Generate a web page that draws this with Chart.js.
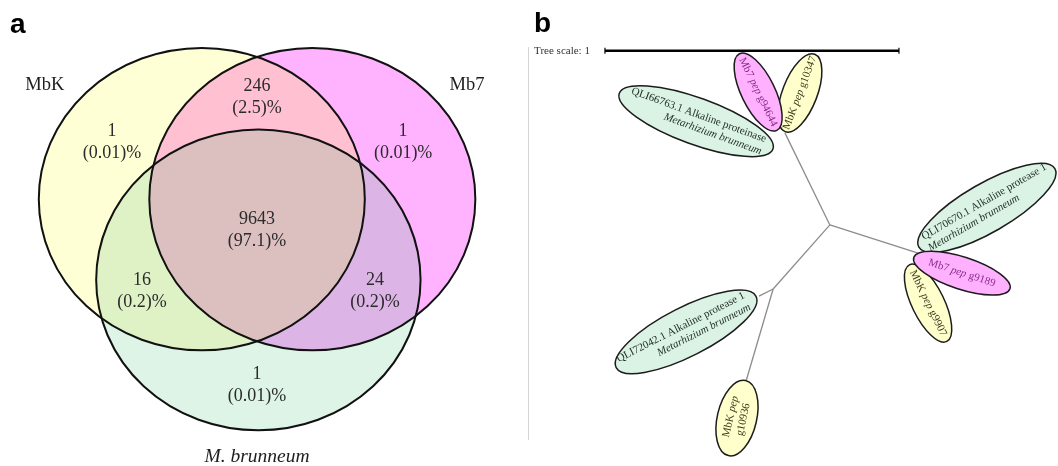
<!DOCTYPE html>
<html><head><meta charset="utf-8">
<script src="https://cdn.jsdelivr.net/npm/chart.js@4.4.0/dist/chart.umd.min.js"></script>
<style>
html,body{margin:0;padding:0;background:#fff;}
#wrap{position:relative;width:1058px;height:466px;overflow:hidden;background:#fff;}
#ca{position:absolute;left:0;top:0;}
#cb{position:absolute;left:520px;top:0;}
</style></head><body>
<div id="wrap"><canvas id="ca" width="520" height="466"></canvas><canvas id="cb" width="538" height="466"></canvas></div>
<script>
// ---------------- DATA: panel a (Venn) ----------------
const setNames = ['MbK', 'Mb7', '*M. brunneum*'];
const regionNames = ['MbK only', 'Mb7 only', 'M. brunneum only', 'MbK & Mb7', 'MbK & M. brunneum', 'Mb7 & M. brunneum', 'all three'];
const regionCounts = [1, 1, 1, 246, 16, 24, 9643];
const regionPercents = ['0.01', '0.01', '0.01', '2.5', '0.2', '0.2', '97.1'];

// ---------------- DATA: panel b (tree) ----------------
const tipLabels = [
  ['QLI66763.1 Alkaline proteinase', '*Metarhizium brunneum*'],
  ['Mb7 *pep* g94644'],
  ['MbK *pep* g10347'],
  ['QLI70670.1 Alkaline protease 1', '*Metarhizium brunneum*'],
  ['Mb7 *pep* g9189'],
  ['MbK *pep* g9907'],
  ['QLI72042.1 Alkaline protease 1', '*Metarhizium brunneum*'],
  ['MbK *pep*', 'g10936']
];
const tipGroups = ['ref', 'Mb7', 'MbK', 'ref', 'Mb7', 'MbK', 'ref', 'MbK'];
const treeScaleLength = 1;
const treeScaleLabel = 'Tree scale: 1';

// ---------------- LAYOUT (kept apart from data) ----------------
const vennX = { min: -1.577, max: 1.613 };
const vennY = { min: -1.498, max: 1.584 };
const setCX = [-0.339, 0.339, 0.008];
const setCY = [0.267, 0.267, -0.267];
const setR = [1.0, 1.0, 0.995];
const regionLX = [-0.890, 0.896, 0.0, 0.0, -0.706, 0.724, 0.0];
const regionLY = [0.645, 0.645, -0.967, 0.943, -0.345, -0.345, 0.060];
const setLX = [-1.302, 1.288, 0.0];
const setLY = [1.021, 1.021, -1.440];

const treeX = { min: 0, max: 538 / 294 };
const treeY = { min: 0, max: 466 / 294 };
const nodeX = [1.054, 0.901, 1.354, 0.861, 0.813, 0.769];
const nodeY = [0.820, 1.133, 0.724, 0.602, 0.578, 0.289];
const treeEdges = [[0, 1], [0, 2], [0, 3], [3, 4], [3, 5]];
const tipCX = [0.599, 0.810, 0.952, 1.588, 1.503, 1.388, 0.565, 0.738];
const tipCY = [1.173, 1.272, 1.269, 0.878, 0.656, 0.554, 0.456, 0.163];
const tipRX = [0.278, 0.145, 0.141, 0.267, 0.172, 0.145, 0.267, 0.131];
const tipRY = [0.079, 0.057, 0.059, 0.083, 0.055, 0.055, 0.083, 0.067];
const tipAngle = [20, 64, -69, -30, 18, 64, -27, -77];
const tipAlign = ['right', 'center', 'center', 'left', 'center', 'center', 'right', 'center'];
const scaleBarX = 0.289, scaleBarY = 1.412, scaleTextX = 0.048;
const panelLineX = 0.027, panelLineY = [1.425, 0.088];

// ---------------- STYLES ----------------
const SERIF = '"Liberation Serif", "Times New Roman", serif';
const SANS = '"Liberation Sans", Arial, sans-serif';
const setFill = ['#ffffd6', '#ffb3ff', '#ddf4e6'];
const pairFill = { '01': '#ffc0d2', '02': '#dff2c6', '12': '#dcb4e6' };
const tripleFill = '#dcc0c0';
const groupFill = { ref: '#dbf3e5', Mb7: '#ffb1ff', MbK: '#ffffcc' };
const groupText = { ref: '#1e2b23', Mb7: '#8a2d8a', MbK: '#3a3a1e' };

// ---------------- helpers ----------------
function parseRich(s) {
  const parts = [];
  s.split('*').forEach((t, i) => { if (t) parts.push({ t, it: i % 2 === 1 }); });
  return parts;
}
function richWidth(ctx, parts, size, fam) {
  let w = 0;
  parts.forEach(p => { ctx.font = (p.it ? 'italic ' : '') + size + 'px ' + fam; w += ctx.measureText(p.t).width; });
  return w;
}
function drawRich(ctx, parts, x, y, size, fam) {
  ctx.textAlign = 'left';
  parts.forEach(p => {
    ctx.font = (p.it ? 'italic ' : '') + size + 'px ' + fam;
    ctx.fillText(p.t, x, y);
    x += ctx.measureText(p.t).width;
  });
}
function ellipsePath(ctx, xs, ys, cx, cy, rx, ry, ang) {
  const px = xs.getPixelForValue(cx), py = ys.getPixelForValue(cy);
  const prx = Math.abs(xs.getPixelForValue(cx + rx) - px);
  const pry = Math.abs(ys.getPixelForValue(cy + ry) - py);
  ctx.beginPath();
  ctx.ellipse(px, py, prx, pry, (ang || 0) * Math.PI / 180, 0, Math.PI * 2);
  return { px, py, prx, pry };
}

// ---------------- panel a plugin ----------------
const vennPlugin = {
  id: 'venn',
  beforeDatasetsDraw(chart) {
    const ctx = chart.ctx, xs = chart.scales.x, ys = chart.scales.y;
    const circ = i => ellipsePath(ctx, xs, ys, setCX[i], setCY[i], setR[i], setR[i], 0);
    ctx.save();
    [0, 1, 2].forEach(i => { circ(i); ctx.fillStyle = setFill[i]; ctx.fill(); });
    [[0, 1], [0, 2], [1, 2]].forEach(([a, b]) => {
      ctx.save(); circ(a); ctx.clip(); circ(b); ctx.fillStyle = pairFill['' + a + b]; ctx.fill(); ctx.restore();
    });
    ctx.save(); circ(0); ctx.clip(); circ(1); ctx.clip(); circ(2); ctx.fillStyle = tripleFill; ctx.fill(); ctx.restore();
    ctx.lineWidth = 2; ctx.strokeStyle = '#111';
    [0, 1, 2].forEach(i => { circ(i); ctx.stroke(); });
    ctx.restore();
  },
  afterDatasetsDraw(chart) {
    const ctx = chart.ctx, xs = chart.scales.x, ys = chart.scales.y;
    ctx.save();
    ctx.textBaseline = 'middle';
    ctx.fillStyle = '#2b2b2b';
    regionCounts.forEach((c, i) => {
      const px = xs.getPixelForValue(regionLX[i]), py = ys.getPixelForValue(regionLY[i]);
      ctx.font = '18px ' + SERIF; ctx.textAlign = 'center';
      ctx.fillText(String(c), px, py - 11);
      ctx.fillText('(' + regionPercents[i] + ')%', px, py + 11);
    });
    setNames.forEach((n, i) => {
      const parts = parseRich(n);
      const size = i === 2 ? 19.5 : 18.5;
      const w = richWidth(ctx, parts, size, SERIF);
      ctx.fillStyle = '#1e1e1e';
      drawRich(ctx, parts, xs.getPixelForValue(setLX[i]) - w / 2, ys.getPixelForValue(setLY[i]), size, SERIF);
    });
    ctx.fillStyle = '#000';
    ctx.font = 'bold 28px ' + SANS; ctx.textAlign = 'left'; ctx.textBaseline = 'alphabetic';
    ctx.fillText('a', chart.chartArea.left + 10, chart.chartArea.top + 33);
    ctx.restore();
  }
};

// ---------------- panel b plugin ----------------
const treePlugin = {
  id: 'tree',
  afterDatasetsDraw(chart) {
    const ctx = chart.ctx, xs = chart.scales.x, ys = chart.scales.y;
    ctx.save();
    ctx.strokeStyle = '#d4d4d4'; ctx.lineWidth = 1;
    ctx.beginPath();
    ctx.moveTo(Math.round(xs.getPixelForValue(panelLineX)) + 0.5, ys.getPixelForValue(panelLineY[0]));
    ctx.lineTo(Math.round(xs.getPixelForValue(panelLineX)) + 0.5, ys.getPixelForValue(panelLineY[1]));
    ctx.stroke();
    const order = [];
    ['ref', 'MbK', 'Mb7'].forEach(g => tipGroups.forEach((tg, i) => { if (tg === g) order.push(i); }));
    order.forEach(i => {
      const g = tipGroups[i];
      const e = ellipsePath(ctx, xs, ys, tipCX[i], tipCY[i], tipRX[i], tipRY[i], tipAngle[i]);
      ctx.fillStyle = groupFill[g]; ctx.fill();
      ctx.lineWidth = 1.5; ctx.strokeStyle = '#1c1c1c'; ctx.stroke();
      ctx.save();
      ctx.translate(e.px, e.py);
      ctx.rotate(tipAngle[i] * Math.PI / 180);
      ctx.fillStyle = groupText[g];
      ctx.textBaseline = 'middle';
      const lines = tipLabels[i];
      const size = 11;
      lines.forEach((ln, k) => {
        const parts = parseRich(ln);
        const w = richWidth(ctx, parts, size, SERIF);
        const ly = lines.length === 1 ? 0 : (k === 0 ? -6.5 : 6.5);
        let lx;
        if (tipAlign[i] === 'right') lx = e.prx - 10 - w;
        else if (tipAlign[i] === 'left') lx = -e.prx + 8;
        else lx = -w / 2;
        drawRich(ctx, parts, lx, ly, size, SERIF);
      });
      ctx.restore();
    });
    const x0 = xs.getPixelForValue(scaleBarX), x1 = xs.getPixelForValue(scaleBarX + treeScaleLength);
    const yb = ys.getPixelForValue(scaleBarY);
    ctx.strokeStyle = '#000'; ctx.lineWidth = 2.5;
    ctx.beginPath(); ctx.moveTo(x0, yb); ctx.lineTo(x1, yb); ctx.stroke();
    ctx.lineWidth = 1.2;
    ctx.beginPath(); ctx.moveTo(x0, yb - 3); ctx.lineTo(x0, yb + 3); ctx.moveTo(x1, yb - 3); ctx.lineTo(x1, yb + 3); ctx.stroke();
    ctx.fillStyle = '#333'; ctx.font = '11px ' + SERIF; ctx.textAlign = 'left'; ctx.textBaseline = 'middle';
    ctx.fillText(treeScaleLabel, xs.getPixelForValue(scaleTextX), yb);
    ctx.fillStyle = '#000'; ctx.font = 'bold 28px ' + SANS; ctx.textBaseline = 'alphabetic';
    ctx.fillText('b', chart.chartArea.left + 14, chart.chartArea.top + 32);
    ctx.restore();
  }
};

const hiddenScale = (r) => ({ type: 'linear', min: r.min, max: r.max, display: false });
const commonOpts = (xr, yr) => ({
  responsive: false, animation: false, devicePixelRatio: 1,
  layout: { padding: 0 },
  plugins: { legend: { display: false }, tooltip: { enabled: false }, title: { display: false } },
  scales: { x: hiddenScale(xr), y: hiddenScale(yr) }
});

new Chart(document.getElementById('ca'), {
  type: 'scatter',
  data: { datasets: [{ data: setCX.map((x, i) => ({ x, y: setCY[i] })), pointRadius: 0 }] },
  options: commonOpts(vennX, vennY),
  plugins: [vennPlugin]
});

new Chart(document.getElementById('cb'), {
  type: 'scatter',
  data: {
    datasets: treeEdges.map(([a, b]) => ({
      data: [{ x: nodeX[a], y: nodeY[a] }, { x: nodeX[b], y: nodeY[b] }],
      showLine: true, pointRadius: 0, borderColor: '#8c8c8c', borderWidth: 1.3, fill: false
    }))
  },
  options: commonOpts(treeX, treeY),
  plugins: [treePlugin]
});
</script>
</body></html>
